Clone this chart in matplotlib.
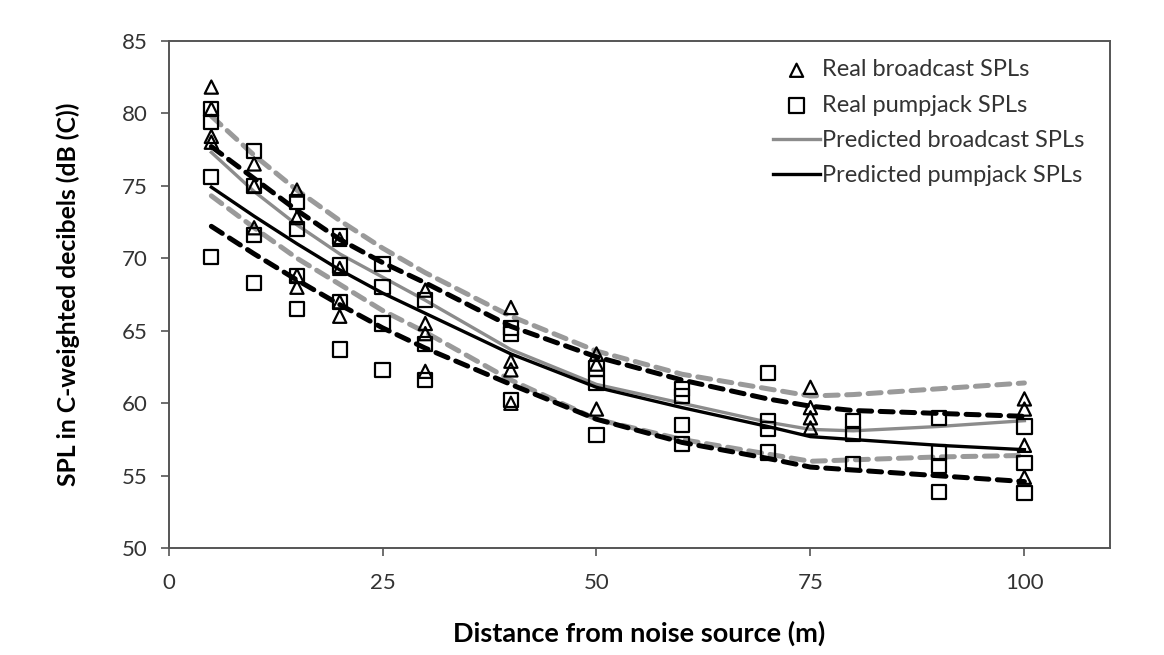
import matplotlib
matplotlib.use("Agg")
import matplotlib.pyplot as plt

# Measured sound pressure levels (dB(C)) by distance (m)
broadcast_x = [5, 5, 5, 5,
               10, 10, 10,
               15, 15, 15, 15,
               20, 20, 20, 20,
               30, 30, 30, 30,
               40, 40, 40, 40,
               50, 50, 50,
               75, 75, 75, 75,
               100, 100, 100, 100]
broadcast_y = [81.8, 80.3, 78.4, 78.0,
               76.5, 75.0, 72.1,
               74.7, 72.8, 68.8, 68.0,
               71.3, 69.3, 67.0, 66.0,
               67.8, 65.5, 64.8, 62.2,
               66.6, 62.9, 62.3, 60.0,
               63.4, 62.7, 59.6,
               61.1, 59.7, 59.0, 58.3,
               60.3, 59.6, 57.1, 54.9]

pumpjack_x = [5, 5, 5, 5,
              10, 10, 10, 10,
              15, 15, 15, 15,
              20, 20, 20, 20,
              25, 25, 25, 25,
              30, 30, 30,
              40, 40, 40,
              50, 50, 50,
              60, 60, 60, 60,
              70, 70, 70, 70,
              80, 80, 80,
              90, 90, 90, 90,
              100, 100, 100]
pumpjack_y = [80.3, 79.4, 75.6, 70.1,
              77.4, 75.0, 71.6, 68.3,
              73.9, 72.0, 68.8, 66.5,
              71.5, 69.5, 67.0, 63.7,
              69.6, 68.0, 65.5, 62.3,
              67.1, 64.1, 61.6,
              65.2, 64.8, 60.2,
              62.4, 61.4, 57.8,
              61.0, 60.5, 58.5, 57.2,
              62.1, 58.8, 58.2, 56.6,
              58.8, 57.9, 55.8,
              59.0, 56.6, 55.7, 53.9,
              58.4, 55.9, 53.8]

# Model predictions with upper / lower bounds
pred_x = [5, 10, 15, 20, 25, 30, 40, 50, 60, 70, 75, 80, 90, 100]
pred_broadcast = [77.3, 74.6, 72.3, 70.3, 68.7, 67.1, 63.7, 61.3, 60.0, 58.7, 58.2, 58.1, 58.4, 58.8]
broadcast_upper = [79.8, 77.1, 74.7, 72.6, 70.7, 69.0, 66.0, 63.6, 62.0, 61.0, 60.5, 60.6, 61.0, 61.4]
broadcast_lower = [74.3, 72.1, 70.0, 68.2, 66.4, 64.9, 61.6, 58.9, 57.5, 56.5, 56.0, 56.1, 56.3, 56.4]

pred_pumpjack = [74.9, 72.9, 71.0, 69.2, 67.6, 66.2, 63.4, 61.1, 59.7, 58.4, 57.7, 57.5, 57.1, 56.8]
pumpjack_upper = [77.7, 75.5, 73.3, 71.3, 69.7, 68.3, 65.3, 63.2, 61.6, 60.3, 59.8, 59.5, 59.3, 59.1]
pumpjack_lower = [72.2, 70.3, 68.5, 66.8, 65.2, 63.8, 61.3, 58.9, 57.3, 56.2, 55.6, 55.4, 55.0, 54.6]

x_ticks = [0, 25, 50, 75, 100]
y_ticks = [50, 55, 60, 65, 70, 75, 80, 85]

plt.rcParams["font.family"] = ["Lato", "DejaVu Sans"]

fig = plt.figure(figsize=(11.64, 6.55), dpi=100)
ax = fig.add_axes([0.1448, 0.1629, 0.8088, 0.7750])

gray = "#9a9a9a"
dash_kw = dict(lw=3.6, dashes=(2.6, 1.7), dash_capstyle="round", zorder=2)

ax.plot(pred_x, broadcast_upper, color=gray, **dash_kw)
ax.plot(pred_x, broadcast_lower, color=gray, **dash_kw)
ax.plot(pred_x, pumpjack_upper, color="black", **dash_kw)
ax.plot(pred_x, pumpjack_lower, color="black", **dash_kw)

ax.scatter(broadcast_x, broadcast_y, marker="^", s=90, facecolors="none",
           edgecolors="black", linewidths=1.6, zorder=4, label="Real broadcast SPLs")
ax.scatter(pumpjack_x, pumpjack_y, marker="s", s=105, facecolors="none",
           edgecolors="black", linewidths=1.6, zorder=4, label="Real pumpjack SPLs")

ax.plot(pred_x, pred_broadcast, color="#8c8c8c", lw=2.4, zorder=3,
        label="Predicted broadcast SPLs")
ax.plot(pred_x, pred_pumpjack, color="black", lw=2.4, zorder=3,
        label="Predicted pumpjack SPLs")

ax.set_xlim(0, 110)
ax.set_ylim(50, 85)
ax.set_xticks(x_ticks)
ax.set_yticks(y_ticks)
ax.tick_params(axis="both", direction="out", length=6, width=1.2, colors="#555555",
               labelcolor="#333333", labelsize=16)
ax.tick_params(axis="x", pad=12)
ax.tick_params(axis="y", pad=9)
for sp in ax.spines.values():
    sp.set_color("#555555")
    sp.set_linewidth(1.4)

ax.set_xlabel("Distance from noise source (m)", fontsize=19.5, fontweight="bold",
              labelpad=20)
ax.set_ylabel("SPL in C-weighted decibels (dB (C))", fontsize=17.8, fontweight="bold",
              labelpad=30)

ax.legend(loc="upper left", bbox_to_anchor=(0.642, 0.963), frameon=False, fontsize=17,
          handlelength=2.0, handletextpad=0.08, labelspacing=0.6,
          borderpad=0.0, borderaxespad=0.0, labelcolor="#333333")

fig.savefig("out.png", dpi=100)
